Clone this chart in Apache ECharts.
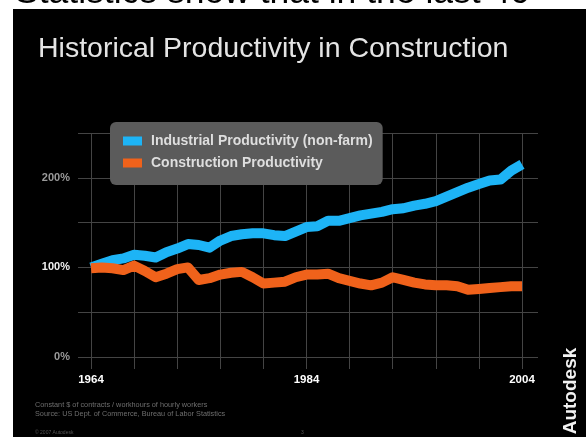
<!DOCTYPE html>
<html><head><meta charset="utf-8">
<script src="https://cdn.jsdelivr.net/npm/echarts@6/dist/echarts.min.js"></script>
<style>
html,body{margin:0;padding:0;background:#fff;overflow:hidden;}
#bg{position:absolute;left:13px;top:9px;width:573px;height:428px;background:#000;}
#c{position:absolute;left:0;top:0;width:586px;height:437px;}
</style>
</head><body><div id="bg"></div><div id="c"></div>
<script>
const years = [1964,1965,1966,1967,1968,1969,1970,1971,1972,1973,1974,1975,1976,1977,1978,1979,1980,1981,1982,1983,1984,1985,1986,1987,1988,1989,1990,1991,1992,1993,1994,1995,1996,1997,1998,1999,2000,2001,2002,2003,2004];
const industrial = [100,104,108,110,114,113,111,117,121,126,125,122,130,135,137,138,138,136,135,140,145,146,152,152,155,158,160,162,165,166,169,171,174,179,184,189,193,197,198,208,215];
const construction = [99,100,99,97,102,96,89,93,98,100,86,88,92,94,95,89,82,83,84,89,92,92,93,88,85,82,80,83,89,86,83,81,80,80,79,75,76,77,78,79,79];
const yTickLabels = [0,100,200];
const xTickLabels = [1964,1984,2004];
const seriesNames = ['Industrial Productivity (non-farm)','Construction Productivity'];
const titleText = 'Historical Productivity in Construction';
const topText = 'Statistics show that in the last 40';
const footLines = ['Constant $ of contracts / workhours of hourly workers','Source: US Dept. of Commerce, Bureau of Labor Statistics'];

const FONT = 'Liberation Sans, Arial, sans-serif';
const gridColor = '#444';
const chart = echarts.init(document.getElementById('c'));
chart.setOption({
  backgroundColor: 'transparent',
  animation: false,
  title: {
    text: titleText, left: 33, top: 30,
    textStyle: {color: '#e4e4e4', fontSize: 28.5, fontWeight: 'normal', fontFamily: FONT}
  },
  legend: {
    orient: 'vertical', left: 110, top: 122,
    backgroundColor: '#5b5b5b', borderRadius: 6,
    padding: [12, 10, 15, 13], itemGap: 8,
    itemWidth: 19, itemHeight: 9, icon: 'rect',
    data: seriesNames,
    textStyle: {color: '#dedede', fontSize: 14, fontWeight: 'bold', fontFamily: FONT, padding: [0, 0, 0, 4]}
  },
  grid: [
    {left: 91, right: 64, top: 133, bottom: 80},
    {left: 78, right: 48, top: 133, bottom: 80}
  ],
  xAxis: [
    {type: 'value', gridIndex: 0, min: 1964, max: 2004, interval: 4,
     axisLine: {show: false},
     axisTick: {show: true, length: 12, lineStyle: {color: gridColor}},
     splitLine: {show: true, lineStyle: {color: gridColor}},
     axisLabel: {formatter: v => xTickLabels.includes(v) ? String(v) : '',
       color: '#fff', fontWeight: 'bold', fontSize: 11.5, fontFamily: FONT, margin: 17}},
    {type: 'value', gridIndex: 1, min: 0, max: 1, show: false}
  ],
  yAxis: [
    {type: 'value', gridIndex: 0, min: 0, max: 250, interval: 50, show: false},
    {type: 'value', gridIndex: 1, min: 0, max: 250, interval: 50,
     axisLine: {show: false}, axisTick: {show: false},
     splitLine: {show: true, lineStyle: {color: gridColor}},
     axisLabel: {margin: 8, fontFamily: FONT, fontSize: 11, fontWeight: 'bold',
       formatter: v => yTickLabels.includes(v) ? (v === 100 ? '{w|' + v + '%}' : '{g|' + v + '%}') : '',
       rich: {w: {color: '#f0f0f0', fontWeight: 'bold', fontSize: 11, fontFamily: FONT},
              g: {color: '#9a9a9a', fontWeight: 'bold', fontSize: 11, fontFamily: FONT}}}}
  ],
  series: [
    {name: seriesNames[0], type: 'line', xAxisIndex: 0, yAxisIndex: 0,
     data: years.map((y, i) => [y, industrial[i]]),
     showSymbol: false, symbol: 'none', color: '#1db4f6',
     lineStyle: {width: 10, color: '#1db4f6', join: 'round'}, z: 3},
    {name: seriesNames[1], type: 'line', xAxisIndex: 0, yAxisIndex: 0,
     data: years.map((y, i) => [y, construction[i]]),
     showSymbol: false, symbol: 'none', color: '#f0621b',
     lineStyle: {width: 10, color: '#f0621b', join: 'round'}, z: 4}
  ],
  graphic: [
    {type: 'text', left: 15, top: -25, silent: true,
     style: {text: topText, fill: '#000', font: '35.5px ' + FONT}},
    {type: 'text', left: 35, top: 401, silent: true,
     style: {text: footLines[0], fill: '#6e6e6e', font: '7.3px ' + FONT}},
    {type: 'text', left: 35, top: 410, silent: true,
     style: {text: footLines[1], fill: '#6e6e6e', font: '7.3px ' + FONT}},
    {type: 'text', left: 35, top: 430, silent: true,
     style: {text: '© 2007 Autodesk', fill: '#555', font: '5px ' + FONT}},
    {type: 'text', left: 301, top: 430, silent: true,
     style: {text: '3', fill: '#555', font: '5px ' + FONT}},
    {type: 'text', x: 571, y: 391, rotation: Math.PI / 2, silent: true,
     style: {text: 'Autodesk', fill: '#f2f2f2', font: 'bold 19px ' + FONT, align: 'center', verticalAlign: 'middle'}}
  ]
});
</script>
</body></html>
